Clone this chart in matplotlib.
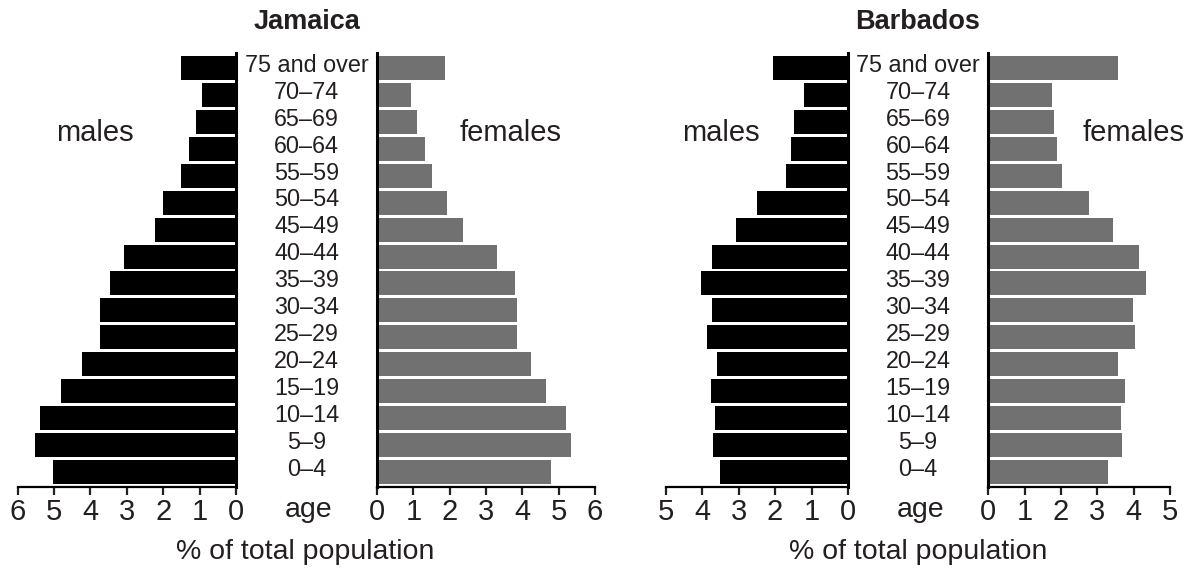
import matplotlib
matplotlib.use('Agg')
import matplotlib.pyplot as plt
import matplotlib.transforms as mtransforms

plt.rcParams['font.family'] = ['Liberation Sans', 'DejaVu Sans']

TEXT = '#231f20'
MALE_COLOR = '#000000'
FEMALE_COLOR = '#717171'

# bottom (0-4) to top (75 and over)
age_groups = ['0–4', '5–9', '10–14', '15–19', '20–24', '25–29', '30–34', '35–39',
              '40–44', '45–49', '50–54', '55–59', '60–64', '65–69', '70–74', '75 and over']

jamaica_males = [5.03, 5.52, 5.39, 4.81, 4.23, 3.73, 3.73, 3.46,
                 3.07, 2.22, 2.00, 1.51, 1.28, 1.09, 0.93, 1.51]
jamaica_females = [4.79, 5.34, 5.20, 4.65, 4.24, 3.85, 3.85, 3.80,
                   3.30, 2.37, 1.93, 1.51, 1.32, 1.10, 0.94, 1.87]
barbados_males = [3.50, 3.69, 3.66, 3.77, 3.58, 3.88, 3.74, 4.02,
                  3.74, 3.08, 2.50, 1.71, 1.57, 1.49, 1.21, 2.06]
barbados_females = [3.29, 3.68, 3.65, 3.76, 3.57, 4.04, 3.98, 4.34,
                    4.15, 3.43, 2.77, 2.03, 1.89, 1.81, 1.75, 3.57]

jamaica_ticks = [0, 1, 2, 3, 4, 5, 6]
barbados_ticks = [0, 1, 2, 3, 4, 5]

fig = plt.figure(figsize=(11.96, 5.72), dpi=100)

AX_BOTTOM = 0.1486
AX_HEIGHT = 0.7587
Y_LIM = (-0.557, len(age_groups) - 1 + 0.557)


def style_axis(ax, side):
    for s in ['top', 'left', 'right', 'bottom']:
        ax.spines[s].set_visible(False)
    ax.spines[side].set_visible(True)
    ax.spines[side].set_linewidth(2.2)
    ax.spines['bottom'].set_visible(True)
    ax.spines['bottom'].set_linewidth(1.6)
    ax.set_yticks([])
    ax.set_ylim(*Y_LIM)
    ax.tick_params(axis='x', direction='out', length=6, width=1.6,
                   pad=2, labelsize=21, colors=TEXT)
    ax.patch.set_alpha(0)


def draw_pyramid(males, females, ticks, male_rect, female_rect, centre, age_x,
                 title, males_x, females_x, xlabel_x):
    ypos = list(range(len(age_groups)))
    top = max(ticks)

    axm = fig.add_axes([male_rect[0], AX_BOTTOM, male_rect[1], AX_HEIGHT])
    axm.barh(ypos, males, height=0.89, color=MALE_COLOR)
    axm.set_xlim(top, 0)
    axm.set_xticks(ticks)
    style_axis(axm, 'right')

    axf = fig.add_axes([female_rect[0], AX_BOTTOM, female_rect[1], AX_HEIGHT])
    axf.barh(ypos, females, height=0.89, color=FEMALE_COLOR)
    axf.set_xlim(0, top)
    axf.set_xticks(ticks)
    style_axis(axf, 'left')

    trans = mtransforms.blended_transform_factory(fig.transFigure, axm.transData)
    for y, lab in zip(ypos, age_groups):
        axm.text(centre, y + 0.1, lab, transform=trans, ha='center', va='center',
                 fontsize=16.8, color=TEXT, clip_on=False)

    fig.text(age_x, 0.108, 'age', ha='center', va='center', fontsize=20.5, color=TEXT)
    fig.text(centre, 0.962, title, ha='center', va='center', fontsize=19.5,
             fontweight='bold', color=TEXT)
    fig.text(males_x, 0.754, 'males', ha='center', va='baseline', fontsize=21, color=TEXT)
    fig.text(females_x, 0.754, 'females', ha='center', va='baseline', fontsize=21, color=TEXT)
    fig.text(xlabel_x, 0.035, '% of total population', ha='center', va='center',
             fontsize=20.5, color=TEXT)


draw_pyramid(jamaica_males, jamaica_females, jamaica_ticks,
             (0.0148, 0.1825), (0.3152, 0.1823), 0.2563, 0.2584,
             'Jamaica', 0.079, 0.4273, 0.255)
draw_pyramid(barbados_males, barbados_females, barbados_ticks,
             (0.5566, 0.1524), (0.8263, 0.1519), 0.7676, 0.770,
             'Barbados', 0.603, 0.948, 0.768)

fig.savefig('out.png', dpi=100)
